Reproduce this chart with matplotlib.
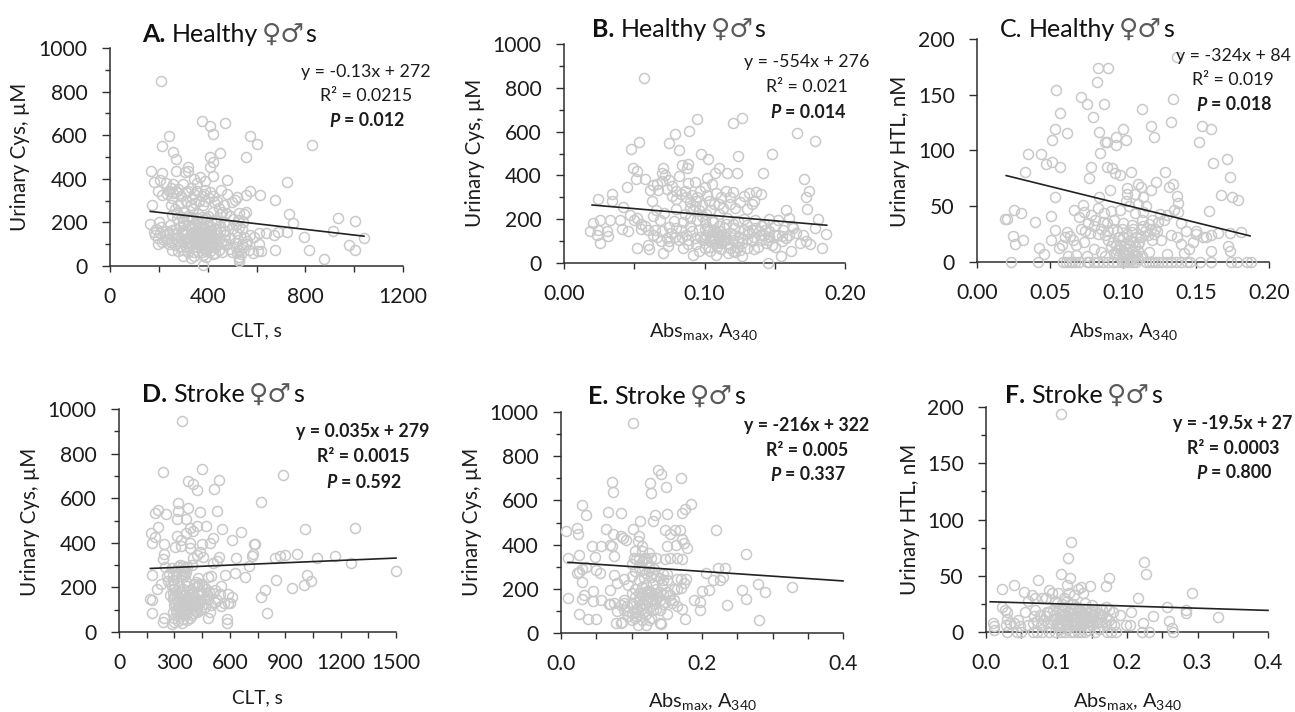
import numpy as np
import matplotlib
matplotlib.use("Agg")
import matplotlib.pyplot as plt
from matplotlib.ticker import MultipleLocator, FormatStrFormatter

plt.rcParams['font.family'] = ['Lato', 'DejaVu Sans']
plt.rcParams['mathtext.fontset'] = 'custom'
plt.rcParams['mathtext.rm'] = 'Lato'
plt.rcParams['mathtext.it'] = 'Lato:italic'
plt.rcParams['mathtext.bf'] = 'Lato:bold'
plt.rcParams['mathtext.bfit'] = 'Lato:italic:bold'

points_a = [(210,847),(378,663),(409,640),(423,604),(469,656),(573,598),(603,560),(828,557),(241,595),(211,549),(256,521),(270,492),(450,518),(409,498),(423,477),(409,455),(555,500),(319,455),(307,432),(168,435),(211,425),(270,437),(423,414),(481,393),(723,386),(180,386),(319,435),(345,400),(370,410),(355,380),(390,390),(205,395),(230,380),(195,345),(215,325),(250,360),(270,340),(290,320),(310,300),(330,360),(345,330),(375,320),(390,350),(410,340),(420,320),(440,300),(455,350),(480,330),(465,280),(500,295),(520,315),(510,305),(555,325),(575,345),(615,325),(675,305),(170,280),(460,250),(490,230),(530,245),(555,250),(550,240),(735,240),(750,198),(610,150),(640,150),(670,140),(690,155),(725,155),(795,135),(815,75),(875,32),(915,160),(935,218),(1005,205),(980,95),(1005,72),(1040,130),(675,75),(620,70),(585,60),(610,100),(575,140),(550,135),(540,170),(530,180),(520,60),(530,40),(530,30),(530,25),(535,55),(530,75),(545,85),
(165,192),(180,155),(190,170),(195,130),(200,200),(195,100),(215,110),(230,160),(210,180),(225,140),(240,100),(245,190),(255,75),(265,130),(270,170),(280,70),(290,110),(295,150),(300,200),(300,45),(310,85),(320,130),(330,170),(335,100),(330,35),(345,65),(350,190),(355,130),(360,150),(365,110),(370,90),(375,175),(380,130),(380,50),(385,150),(390,100),(395,70),(400,165),(400,125),(405,190),(410,145),(410,95),(420,55),(425,115),(430,170),(440,210),(445,75),(450,130),(460,65),(470,160),(480,100),(490,130),(500,65),(510,105),(515,190),(525,120),(540,100),(380,5),
(280,280),(300,250),(320,230),(340,260),(360,240),(380,280),(400,230),(420,250),(430,210),(450,240),(350,290),(330,280),(310,340),(290,290),(265,260),(390,300),(340,215),(300,190),(360,200),(385,210),(275,215),(250,280),(255,310),(235,330),(260,375),
(290,130),(300,115),(310,150),(315,105),(325,90),(335,140),(340,120),(345,155),(350,105),(355,85),(360,125),(365,140),(370,155),(370,120),(375,100),(380,145),(385,115),(390,130),(395,155),(395,105),(400,140),(405,110),(410,125),(415,85),(415,160),(420,135),(350,140),(340,175),(320,190),(300,165),(285,180),(270,145),(255,165),(440,150),(455,110),(470,120),(440,95),(430,85),(385,80),
(240,345),(260,335),(280,355),(300,375),(320,345),(335,310),(355,345),(365,300),(385,330),(405,310),(425,295),(445,265),(475,245),(505,215),(525,210),(545,200),(520,150),(500,170),(485,190),(465,200),(450,185),(435,195),(415,205),(395,220),(375,225),(355,220),(335,225),(315,215),(295,225),(275,245),(255,235),(240,150),(220,120),(205,150),(185,140),(235,125),(250,110),(265,95),(275,115),(285,90),(300,75),(320,65),(345,45),(360,70),(375,65),(395,40),(410,70),(430,60),(465,100),(490,80),(515,85),(555,100),(570,75),(560,115),(590,135),(605,70),(330,150),(345,135),(360,165),(375,135),(390,170),(405,145),(345,115),(365,95),(385,125),(400,105),(420,100),(435,125),(450,160),(470,140),(360,110),(375,150),(395,120),(410,165),(325,115),(310,125)]

points_b = [(.0567,846),(.095,658),(.0887,603),(.0792,590),(.0745,547),(.0816,517),(.0536,552),(.048,521),(.12,637),(.1267,664),(.166,593),(.179,558),(.148,500),(.1236,489),(.0975,497),(.1027,473),(.0489,433),(.0517,418),(.051,383),(.0446,346),(.0707,433),(.0695,410),(.0838,448),(.0885,453),(.0873,433),(.1106,433),(.1075,410),(.1163,410),(.1234,410),(.1416,413),(.1015,388),(.0932,372),(.171,383),(.1744,327),(.1722,301),(.1732,248),(.181,200),(.1787,160),(.1865,134),(.1839,67),(.1454,0),(.1545,33),(.1616,53),(.0244,292),(.0344,315),(.034,281),(.042,255),(.0327,195),(.04,195),(.041,155),(.0458,147),(.0209,182),(.0185,147),(.0256,198),(.0244,152),(.0304,144),(.0316,122),(.0256,91),(.0232,129),(.0522,68),(.0605,64),(.06,84),(.0702,46),(.0743,76),(.0624,281),(.0612,334),(.0636,357),
(.058,385),(.066,360),(.072,400),(.075,380),(.073,340),(.077,305),(.082,395),(.08,330),(.083,315),(.087,300),(.09,280),(.093,260),(.095,300),(.097,330),(.1,345),(.102,310),(.105,360),(.108,320),(.11,270),(.113,250),(.115,330),(.118,300),(.12,325),(.122,250),(.128,305),(.132,320),(.134,270),(.137,325),(.14,315),(.13,245),(.135,285),(.158,240),(.16,205),(.152,195),(.146,200),(.0655,240),(.052,205),(.055,180),(.063,215),(.068,195),(.071,230),(.078,190),(.08,245),(.086,225),(.092,240),(.098,215),(.104,240),(.11,225),(.116,205),(.124,190),(.13,175),(.136,195),(.142,180),(.15,170),(.156,150),(.165,135),(.17,130),(.172,100),(.175,85),(.16,130),(.155,100),(.15,75),(.144,90),(.14,130),(.135,65),(.13,110),(.127,30),(.122,50),(.117,45),(.112,90),(.108,35),(.104,55),(.1,70),(.096,55),(.092,35),(.088,85),(.085,70),(.082,105),(.079,120),(.076,135),(.073,115),(.069,100),(.066,120),(.063,130),(.06,150),(.058,170),
(.083,150),(.087,130),(.09,170),(.093,115),(.096,150),(.099,105),(.101,130),(.102,165),(.104,100),(.105,130),(.106,150),(.107,115),(.108,90),(.109,135),(.11,110),(.111,145),(.112,125),(.113,100),(.114,160),(.115,120),(.116,85),(.118,135),(.12,105),(.121,160),(.123,75),(.125,120),(.127,90),(.128,150),(.13,70),(.132,135),(.134,100),(.136,160),(.138,75),(.14,105),(.143,150),(.146,120),(.148,80),(.152,130),(.158,115),(.162,170),(.1,190),(.095,195),(.09,205),(.085,185),(.075,165),(.07,145),(.106,185),(.115,180),(.12,55),(.125,60),(.1,120),(.107,100),(.111,95),
(.09,250),(.094,285),(.098,265),(.103,285),(.107,270),(.112,300),(.118,270),(.125,280),(.08,290),(.086,330),(.091,310),(.096,240),(.101,225),(.077,350),(.07,375),(.067,335),(.088,365),(.105,195),(.11,170),(.12,180),(.128,200),(.134,150),(.14,170),(.146,145),(.15,130),(.155,125),(.163,160),(.168,90),(.08,160),(.084,120),(.088,105),(.091,145),(.094,85),(.097,120),(.1,155),(.103,75),(.106,110),(.109,75),(.112,65),(.115,105),(.118,70),(.121,130),(.124,100),(.127,110),(.131,145),(.135,120),(.139,145),(.142,130),(.145,105),(.075,100),(.065,150),(.055,155),(.05,195),(.047,220),(.11,125),(.105,120),(.108,140),(.103,145),(.113,130)]

points_c = [(.1367,184),(.0832,174),(.0896,174),(.0823,161),(.054,154),(.0709,148),(.075,142),(.0869,142),(.1344,146),(.1127,137),(.0569,134),(.0795,130),(.1326,126),(.1195,122),(.1543,122),(.1602,119),(.0535,119),(.0617,116),(.0837,117),(.1001,119),(.0951,112),(.1214,112),(.102,109),(.0517,109),(.0878,108),(.0891,108),(.0951,105),(.1518,108),(.0841,98),(.0352,97),(.0439,97),(.171,92),(.1614,89),(.0475,88),(.0517,90),(.0571,85),(.0784,85),(.0891,85),(.0928,84),(.0327,81),(.0944,80),(.0978,78),(.1054,81),(.1287,81),(.0768,75),(.1733,76),(.1225,72),(.1104,70),(.1344,70),(.112,67),(.1195,65),(.1314,67),(.091,65),(.1029,66),(.1024,61),(.1081,61),(.1371,59),(.1671,60),(.1744,58),(.179,56),(.0537,58),(.0837,58),(.1138,58),(.1378,53),(.019,39),(.0206,39),(.0254,47),(.03,44),(.0505,41),(.04,36),(.1586,46),(.0663,47),(.0727,51),(.0245,23),(.0262,16),(.0315,20),(.0425,13),(.0458,7),(.0505,20),(.0532,29),(.0565,13),(.0605,22),(.0615,27),(.0635,23),(.066,20),(.0585,15),(.068,15),(.0715,30),(.0735,18),(.0775,26),(.08,12),(.085,9),(.0875,24),(.09,20),(.093,30),(.095,15),(.098,12),(.1,22),(.102,17),(.104,8),(.106,27),(.108,14),(.11,10),(.112,22),(.114,32),(.118,9),(.12,20),(.123,28),(.126,20),(.13,7),(.133,24),(.137,22),(.14,16),(.142,8),(.145,12),(.148,18),(.15,25),(.155,22),(.157,22),(.16,24),(.16,10),(.165,26),(.172,14),(.1735,10),(.173,26),(.181,27),
(.07,40),(.073,45),(.076,35),(.078,42),(.081,38),(.083,48),(.085,30),(.087,44),(.089,35),(.092,46),(.094,38),(.096,28),(.098,47),(.1,35),(.102,55),(.104,50),(.106,33),(.108,44),(.11,52),(.112,30),(.114,45),(.116,50),(.118,34),(.12,38),(.122,30),(.125,43),(.128,38),(.13,42),(.135,47),(.138,45),(.14,35),(.143,28),(.15,28),
(.095,8),(.097,5),(.098,15),(.1,10),(.1,4),(.102,12),(.103,6),(.105,14),(.106,3),(.107,18),(.109,6),(.11,16),(.113,5),(.075,5),(.068,6),(.062,5),(.088,5),(.092,14),
(.0235,0),(.0418,0),(.059,0),(.061,0),(.063,0),(.065,0),(.067,0),(.07,0),(.075,0),(.077,0),(.08,0),(.083,0),(.086,0),(.09,0),(.093,0),(.096,0),(.099,0),(.101,0),(.103,0),(.105,0),(.107,0),(.109,0),(.116,0),(.118,0),(.12,0),(.122,0),(.124,0),(.127,0),(.13,0),(.133,0),(.136,0),(.14,0),(.144,0),(.146,0),(.153,0),(.16,0),(.174,0),(.178,0),(.185,0),(.188,0),
(.074,28),(.08,32),(.083,25),(.086,36),(.09,28),(.093,18),(.097,22),(.099,30),(.101,14),(.103,25),(.105,20),(.107,30),(.109,22),(.111,18),(.113,38),(.115,28),(.117,24),(.119,30),(.121,25),(.124,36),(.106,10),(.101,7),(.096,11),(.094,8),(.108,5),(.11,3),(.104,3)]

points_d = [(342,948),(451,733),(239,718),(887,703),(371,678),(541,681),(402,663),(420,637),(512,642),(767,582),(317,577),(317,543),(375,558),(438,537),(528,543),(212,547),(194,532),(257,528),(315,505),(362,505),(212,469),(469,475),(420,477),(387,465),(402,454),(365,445),(557,463),(659,447),(1006,463),(1279,468),(175,442),(194,427),(179,397),(315,430),(338,412),(510,420),(492,400),(613,412),(736,394),(731,394),(241,394),(302,382),(338,385),(384,397),(384,375),(447,394),(243,352),(239,327),(438,360),(420,345),(456,337),(402,330),(541,337),(633,334),(722,342),(724,352),(845,330),(872,342),(899,345),(963,352),(1071,331),(1172,342),(1259,309),(1500,274),
(178,255),(250,290),(285,285),(320,290),(345,295),(370,290),(315,260),(345,260),(365,270),(395,300),(510,310),(530,320),(575,255),(630,265),(680,245),(705,295),(848,235),(935,197),(1000,210),(1020,255),(1040,230),(790,190),(767,155),(800,85),(205,195),(225,215),(260,250),(290,235),(270,260),(300,210),(170,150),(180,145),(178,85),(245,65),(240,45),(285,35),(300,45),(300,65),(340,40),(370,55),(385,65),(480,65),(495,90),(585,60),(585,40),(550,115),(590,130),(610,155),(590,170),(555,205),(520,190),(530,145),(480,150),(490,180),(510,175),(470,195),(450,215),(440,185),(420,205),(480,245),(500,250),
(290,175),(300,155),(305,130),(310,100),(315,165),(320,135),(325,115),(330,95),(335,180),(340,150),(345,125),(350,105),(355,140),(360,165),(365,115),(370,85),(375,145),(380,125),(385,155),(390,105),(395,135),(400,85),(405,160),(410,120),(415,95),(420,145),(425,115),(430,170),(435,130),(440,100),(330,70),(350,75),(370,205),(405,215),(430,240),(450,170),(460,150),(335,250),(355,285),(290,150),(275,165),(300,195),(320,110),
(330,300),(350,275),(360,255),(340,280),(310,275),(295,255),(285,205),(265,230),(400,180),(415,225),(435,215),(460,200),(475,170),(440,145),(455,125),(465,110),(410,100),(395,75),(375,105),(360,95),(345,60),(320,50),(315,85),(300,120),(295,90),(310,185),(325,205),(345,195),(365,225),(385,190),(500,120),(520,135),(545,170),(570,130),(600,130),(380,170),(395,115),(365,150),(350,160),(335,135),(375,120),(410,140),(425,90),(355,120),(390,150)]

points_e = [(.102,950),(.138,737),(.142,718),(.17,703),(.0725,681),(.126,678),(.0735,640),(.128,635),(.149,660),(.0295,580),(.035,535),(.184,583),(.176,560),(.171,543),(.0667,548),(.0845,543),(.134,535),(.151,540),(.13,505),(.112,505),(.102,472),(.0225,475),(.0235,450),(.007,460),(.0645,470),(.0735,450),(.0855,440),(.0885,430),(.092,420),(.111,440),(.148,465),(.154,450),(.162,465),(.169,465),(.22,468),(.0445,393),(.0565,393),(.0695,397),(.0725,395),(.15,395),(.163,400),(.172,425),(.175,405),(.179,385),(.109,415),(.115,395),(.105,370),(.0755,350),(.0095,340),(.026,355),(.048,345),(.262,358),(.115,370),(.125,360),(.135,340),(.107,335),(.12,340),(.147,335),(.155,340),(.165,340),(.172,335),(.1,310),(.11,300),(.125,300),(.055,270),(.05,285),(.025,275),(.03,290),(.03,230),(.035,300),(.0225,270),(.075,262),(.09,245),(.08,225),(.07,195),(.045,190),(.01,160),(.03,155),(.032,170),(.045,145),(.057,150),(.07,130),(.068,130),(.025,85),(.038,65),(.05,65),(.08,100),(.09,150),(.093,120),(.085,45),(.078,45),(.087,50),(.1,60),(.107,75),(.109,35),(.12,35),(.128,70),(.14,45),(.142,40),(.15,85),(.158,135),(.165,120),(.172,110),(.176,65),(.188,150),(.197,105),(.197,140),(.2,190),(.21,195),(.215,240),(.205,270),(.225,240),(.23,255),(.222,295),(.232,295),(.257,195),(.262,155),(.235,125),(.281,60),(.28,220),(.29,185),(.328,210),
(.105,200),(.11,180),(.112,160),(.115,135),(.115,210),(.118,250),(.12,175),(.122,145),(.125,190),(.125,280),(.127,155),(.13,220),(.13,170),(.132,130),(.135,200),(.135,260),(.138,165),(.14,150),(.14,105),(.143,215),(.145,175),(.145,265),(.148,140),(.15,240),(.15,185),(.155,170),(.16,200),(.16,150),(.165,245),(.17,205),(.175,225),(.178,245),(.095,215),(.1,260),(.105,280),(.11,240),(.115,110),(.12,85),(.125,115),(.13,270),(.135,110),(.115,320),(.12,270),(.1,130),(.105,95),(.11,80),(.095,100),(.09,135),
(.118,340),(.122,320),(.128,340),(.132,290),(.11,335),(.103,340),(.128,255),(.115,285),(.12,215),(.125,165),(.13,150),(.12,155),(.115,175),(.122,190),(.128,185),(.135,175),(.14,185),(.118,130),(.112,125),(.108,110),(.1,90),(.095,75),(.105,70),(.115,60),(.125,60),(.13,105),(.145,130),(.155,150),(.165,200),(.17,245),(.085,125),(.09,105),(.075,135),(.15,265),(.14,250),(.145,240),(.105,165),(.1,180),(.11,145)]

points_f = [(.107,194),(.121,80),(.117,66),(.224,62),(.227,52),(.106,52),(.119,48),(.174,48),(.074,46),(.17,41),(.04,42),(.0225,38),(.148,41),(.115,42),(.054,36),(.292,35),(.09,37),(.093,35),(.102,35),(.13,38),(.135,40),(.137,35),(.065,33),(.07,30),(.079,30),(.085,30),(.11,30),(.118,35),(.125,33),(.215,30),(.06,28),(.098,28),(.022,22),(.027,20),(.03,18),(.056,18),(.07,20),(.257,22),(.284,20),(.283,17),(.329,13),(.206,18),(.237,14),(.19,15),(.222,8),(.26,10),(.264,4),(.204,6),(.198,6),(.175,20),(.17,22),(.165,20),(.18,18),(.16,16),
(.01,8),(.012,5),(.028,6),(.03,12),(.034,8),(.045,11),(.048,5),(.067,8),(.072,10),(.078,6),(.085,14),(.088,8),(.09,18),(.095,11),(.097,15),(.1,6),(.103,20),(.105,12),(.108,8),(.11,16),(.112,22),(.114,11),(.116,5),(.118,18),(.12,13),(.122,8),(.124,25),(.126,14),(.128,9),(.13,20),(.132,11),(.134,6),(.136,16),(.138,12),(.14,20),(.142,8),(.144,13),(.146,18),(.148,10),(.15,6),(.152,15),(.155,11),(.158,8),(.162,13),(.165,9),(.17,6),(.175,11),(.178,7),(.115,28),(.12,25),(.1,26),(.108,25),(.095,20),(.128,22),(.14,26),(.15,24),
(.012,2),(.03,0),(.044,0),(.05,0),(.066,0),(.072,0),(.08,0),(.09,0),(.098,0),(.106,0),(.112,0),(.12,0),(.125,0),(.13,0),(.135,0),(.14,0),(.155,0),(.172,0),(.178,0),(.185,0),(.221,0),(.231,0),(.265,0),(.105,3),(.115,3),(.145,2),(.16,3),
(.098,12),(.102,8),(.106,16),(.11,11),(.113,7),(.117,14),(.121,9),(.123,17),(.127,6),(.129,14),(.131,8),(.133,17),(.135,11),(.137,7),(.139,15),(.141,11),(.143,5),(.145,9),(.147,14),(.149,19),(.092,9),(.087,18),(.082,11),(.076,15),(.104,5),(.108,20),(.112,15),(.116,10),(.12,20),(.125,11),(.13,14),(.135,19),(.14,15),(.155,19),(.16,9),(.165,15),(.17,13),(.182,6),(.068,14),(.06,6),(.04,8)]

trend_a = (-0.13, 272, 165, 1040)
trend_b = (-554, 276, 0.02, 0.187)
trend_c = (-324, 84, 0.02, 0.187)
trend_d = (0.035, 279, 170, 1500)
trend_e = (-216, 322, 0.01, 0.4)
trend_f = (-19.5, 27, 0.006, 0.4)

stats_a = ["y = -0.13x + 272", "R² = 0.0215", "P = 0.012"]
stats_b = ["y = -554x + 276", "R² = 0.021", "P = 0.014"]
stats_c = ["y = -324x + 84", "R² = 0.019", "P = 0.018"]
stats_d = ["y = 0.035x + 279", "R² = 0.0015", "P = 0.592"]
stats_e = ["y = -216x + 322", "R² = 0.005", "P = 0.337"]
stats_f = ["y = -19.5x + 27", "R² = 0.0003", "P = 0.800"]

W, H = 1295, 712
GREY = '#c9c9c9'
DARK = '#2e2e2e'
TXT = '#1c1c1c'

fig = plt.figure(figsize=(W/100, H/100), dpi=100, facecolor='white')

def fx(x): return x/W
def fy(y): return 1 - y/H

ABS = r'Abs$_{\mathrm{max}}$, A$_{\mathrm{340}}$'
panels = [
 dict(box=(110,403,48,266), pts=points_a, tr=trend_a, st=stats_a, sb=False, xlim=1200, ylim=1000, xmaj=400, xmin=200, ymaj=200, ymin=100, fmt='%d',
      tag='A.', tagb=True, word='Healthy', tpos=(142,42), ylab='Urinary Cys, µM', yl=(20,157), xlab='CLT, s', xl=(256,331), sp=(366,72,96,121)),
 dict(box=(564,845,44,263), pts=points_b, tr=trend_b, st=stats_b, sb=False, xlim=0.2, ylim=1000, xmaj=0.1, xmin=0.05, ymaj=200, ymin=100, fmt='%.2f',
      tag='B.', tagb=True, word='Healthy', tpos=(592,37), ylab='Urinary Cys, µM', yl=(475,153), xlab=ABS, xl=(703,332), sp=(807,62,87,112)),
 dict(box=(977,1269,39,262), pts=points_c, tr=trend_c, st=stats_c, sb=False, xlim=0.2, ylim=200, xmaj=0.05, xmin=None, ymaj=50, ymin=None, fmt='%.2f',
      tag='C.', tagb=False, word='Healthy', tpos=(1000,37), ylab='Urinary HTL, nM', yl=(900,151), xlab=ABS, xl=(1123,331), sp=(1233,56,80,105)),
 dict(box=(119,396,409,632), pts=points_d, tr=trend_d, st=stats_d, sb=True, xlim=1500, ylim=1000, xmaj=300, xmin=150, ymaj=200, ymin=100, fmt='%d',
      tag='D.', tagb=True, word='Stroke', tpos=(142,402), ylab='Urinary Cys, µM', yl=(30,522), xlab='CLT, s', xl=(257,698), sp=(363,432,457,482)),
 dict(box=(561,843,412,633), pts=points_e, tr=trend_e, st=stats_e, sb=True, xlim=0.4, ylim=1000, xmaj=0.2, xmin=0.05, ymaj=200, ymin=100, fmt='%.1f',
      tag='E.', tagb=True, word='Stroke', tpos=(588,404), ylab='Urinary Cys, µM', yl=(472,522), xlab=ABS, xl=(702,702), sp=(807,426,450,475)),
 dict(box=(986,1268,407,632), pts=points_f, tr=trend_f, st=stats_f, sb=True, xlim=0.4, ylim=200, xmaj=0.1, xmin=0.05, ymaj=50, ymin=25, fmt='%.1f',
      tag='F.', tagb=True, word='Stroke', tpos=(1005,403), ylab='Urinary HTL, nM', yl=(910,519), xlab=ABS, xl=(1127,702), sp=(1233,423,448,473)),
]

for p in panels:
    l, r, t, b = p['box']
    ax = fig.add_axes([fx(l), fy(b), (r-l)/W, (b-t)/H])
    ax.set_xlim(0, p['xlim']); ax.set_ylim(0, p['ylim'])
    ax.patch.set_alpha(0)
    for s in ('top', 'right'):
        ax.spines[s].set_visible(False)
    for s in ('left', 'bottom'):
        ax.spines[s].set_color(DARK); ax.spines[s].set_linewidth(1.1)
    ax.xaxis.set_major_locator(MultipleLocator(p['xmaj']))
    ax.yaxis.set_major_locator(MultipleLocator(p['ymaj']))
    if p['xmin']: ax.xaxis.set_minor_locator(MultipleLocator(p['xmin']))
    if p['ymin']: ax.yaxis.set_minor_locator(MultipleLocator(p['ymin']))
    ax.xaxis.set_major_formatter(FormatStrFormatter(p['fmt']))
    ax.yaxis.set_major_formatter(FormatStrFormatter('%d'))
    ax.tick_params(axis='x', which='both', direction='out', length=4.3, width=1.0, color=DARK, labelsize=15.2, labelcolor=TXT, pad=11)
    ax.tick_params(axis='y', which='major', direction='out', length=6, width=1.0, color=DARK, labelsize=15.2, labelcolor=TXT, pad=10)
    ax.tick_params(axis='y', which='minor', direction='out', length=3.5, width=1.0, color=DARK)
    xs = np.array([q[0] for q in p['pts']]); ys = np.array([q[1] for q in p['pts']])
    ax.plot(xs, ys, 'o', ms=7.2, mfc='none', mec=GREY, mew=1.1, clip_on=False, zorder=3)
    m, c, x0, x1 = p['tr']
    ax.plot([x0, x1], [m*x0+c, m*x1+c], color='#222222', lw=1.2, clip_on=False, zorder=4)
    # axis labels
    fig.text(fx(p['yl'][0]), fy(p['yl'][1]), p['ylab'], rotation=90, ha='center', va='center', fontsize=14.8, color=TXT)
    fig.text(fx(p['xl'][0]), fy(p['xl'][1]), p['xlab'], ha='center', va='center', fontsize=14.4 if p['xlab'] == ABS else 13.6, color=TXT)
    # title built from consecutive pieces
    tx, ty = p['tpos']
    t1 = fig.text(fx(tx), fy(ty), p['tag'], fontsize=18, fontweight='bold' if p['tagb'] else 'normal', color='#111111', ha='left', va='baseline')
    t2 = fig.text(0, 0, p['word'], fontsize=18, color='#111111', ha='left', va='baseline')
    t3 = fig.text(0, 0, '♀♂', fontsize=19, color='#5a5a5a', ha='left', va='baseline', family='DejaVu Sans')
    t4 = fig.text(0, 0, 's', fontsize=18, color='#111111', ha='left', va='baseline')
    rend = fig.canvas.get_renderer()
    cur = t1.get_window_extent(rend).x1 + 6
    for piece, gap in ((t2, 4), (t3, 1), (t4, 0)):
        piece.set_position((cur/W, fy(ty)))
        cur = piece.get_window_extent(rend).x1 + gap
    # statistics
    cx, y1, y2, y3 = p['sp']
    weight = 'bold' if p['sb'] else 'normal'
    fig.text(fx(cx), fy(y1), p['st'][0], ha='center', va='center', fontsize=12.8, fontweight=weight, color=TXT)
    fig.text(fx(cx), fy(y2), p['st'][1], ha='center', va='center', fontsize=12.8, fontweight=weight, color=TXT)
    num = p['st'][2].split('= ')[1]
    fig.text(fx(cx-25), fy(y3), r'$\mathbfit{P}$', ha='right', va='center', fontsize=12.8, color=TXT)
    fig.text(fx(cx-22), fy(y3), '= ' + num, ha='left', va='center', fontsize=12.8, fontweight='bold', color=TXT)

fig.savefig('out.png', dpi=100, facecolor='white')
